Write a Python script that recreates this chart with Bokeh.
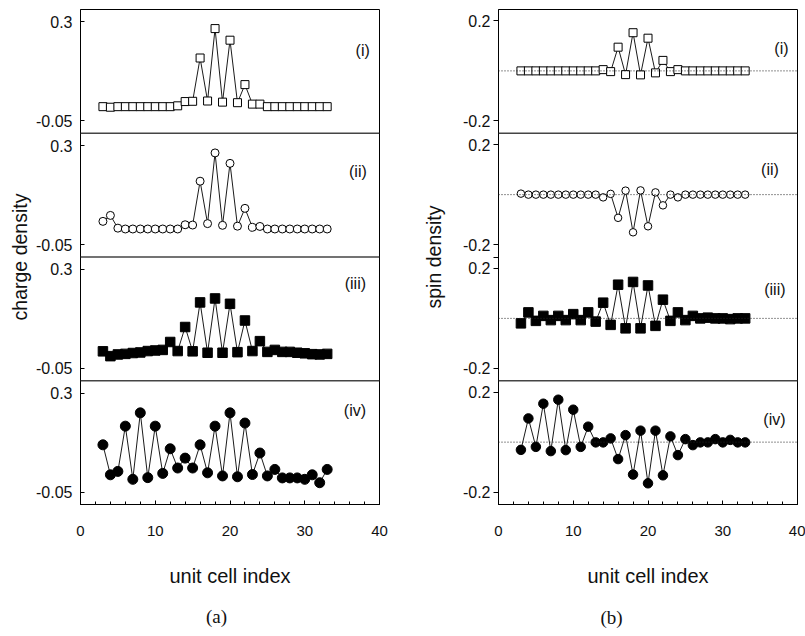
from bokeh.plotting import figure
from bokeh.models import (Range1d, FixedTicker, SingleIntervalTicker, Span,
                          ColumnDataSource, Label, LinearAxis)
from bokeh.layouts import row
from bokeh.transform import dodge
from bokeh.embed import file_html
from bokeh.resources import INLINE

# ---------------- data ----------------
cells = list(range(3, 34))

charge_i = [0.0, -0.002, 0.0, 0.0, 0.0, 0.0, 0.0, 0.0, 0.0, 0.0,
            0.003, 0.018, 0.019, 0.172, 0.020, 0.276, 0.016, 0.235, 0.014, 0.078,
            0.009, 0.009, 0.0, 0.0, 0.0, 0.0, 0.0, 0.0, 0.0, 0.0, 0.0]
charge_ii = [0.032, 0.053, 0.008, 0.005, 0.005, 0.005, 0.005, 0.005, 0.005, 0.005,
             0.005, 0.020, 0.019, 0.174, 0.024, 0.274, 0.018, 0.237, 0.015, 0.078,
             0.011, 0.014, 0.005, 0.005, 0.005, 0.005, 0.005, 0.005, 0.005, 0.005, 0.005]
charge_iii = [0.010, -0.007, -0.001, 0.001, 0.004, 0.006, 0.011, 0.013, 0.015, 0.043,
              0.011, 0.096, 0.010, 0.183, 0.005, 0.197, 0.005, 0.178, 0.007, 0.119,
              0.011, 0.046, 0.008, 0.015, 0.008, 0.008, 0.005, 0.003, 0.000, -0.001, 0.001]
charge_iv = [0.117, 0.011, 0.023, 0.183, -0.005, 0.230, 0.001, 0.183, 0.016, 0.103,
             0.035, 0.070, 0.035, 0.117, 0.018, 0.183, 0.007, 0.230, 0.004, 0.194,
             0.012, 0.088, 0.007, 0.030, 0.000, 0.000, 0.000, -0.005, 0.011, -0.017, 0.030]

spin_i = [0.0, 0.0, 0.0, 0.0, 0.0, 0.0, 0.0, 0.0, 0.0, 0.0,
          0.0, 0.005, -0.003, 0.095, -0.015, 0.153, -0.016, 0.131, -0.008, 0.042,
          -0.003, 0.005, 0.0, 0.0, 0.0, 0.0, 0.0, 0.0, 0.0, 0.0, 0.0]
spin_ii = [0.004, 0.0, 0.0, 0.0, 0.0, 0.0, 0.0, 0.0, 0.0, 0.0,
           0.0, -0.011, 0.003, -0.093, 0.016, -0.151, 0.017, -0.127, 0.009, -0.043,
           0.0, -0.011, 0.0, 0.0, 0.0, 0.0, 0.0, 0.0, 0.0, 0.0, 0.0]
spin_iii = [-0.020, 0.024, -0.010, 0.010, -0.007, 0.010, -0.007, 0.017, -0.007, 0.024,
            -0.013, 0.063, -0.026, 0.135, -0.040, 0.146, -0.040, 0.132, -0.030, 0.075,
            -0.010, 0.024, -0.007, 0.010, 0.000, 0.003, 0.000, 0.000, -0.003, 0.000, 0.000]
spin_iv = [-0.031, 0.095, -0.019, 0.154, -0.036, 0.170, -0.032, 0.130, -0.019, 0.062,
           -0.001, -0.001, 0.015, -0.068, 0.028, -0.130, 0.046, -0.165, 0.046, -0.133,
           0.023, -0.052, 0.012, -0.012, -0.001, -0.001, 0.012, -0.001, 0.009, -0.001, -0.001]

panel_labels = ["(i)", "(ii)", "(iii)", "(iv)"]
charge_ticks = [0.3, -0.05]
spin_ticks = [0.2, -0.2]
x_ticks_interval = 10

# ---------------- styles ----------------
SANS = "Liberation Sans"
SERIF = "Liberation Serif"
H = 634

styles = [
    dict(marker="square", size=8, fill_color="white"),
    dict(marker="circle", size=8, fill_color="white"),
    dict(marker="square", size=9.5, fill_color="black"),
    dict(marker="circle", size=10, fill_color="black"),
]
styles_r = [
    dict(marker="square", size=8, fill_color="white"),
    dict(marker="circle", size=7.5, fill_color="white"),
    dict(marker="square", size=9.5, fill_color="black"),
    dict(marker="circle", size=9.5, fill_color="black"),
]


def base_fig(width, mb_left, mb_right, mb_top, frame_h, band):
    p = figure(width=width, height=H, x_range=Range1d(0, 40),
               y_range=Range1d(0, 4 * band),
               output_backend="svg", toolbar_location=None,
               min_border_left=mb_left, min_border_right=mb_right,
               min_border_top=mb_top, min_border_bottom=H - mb_top - frame_h)
    p.grid.visible = False
    p.outline_line_color = "black"
    p.outline_line_width = 1
    p.background_fill_color = "white"
    p.border_fill_color = "white"
    xa = p.xaxis[0]
    xa.ticker = SingleIntervalTicker(interval=x_ticks_interval, num_minor_ticks=5)
    xa.major_tick_in = 4
    xa.major_tick_out = 0
    xa.minor_tick_in = 3
    xa.minor_tick_out = 0
    xa.axis_line_color = "black"
    xa.major_label_text_font = SANS
    xa.major_label_text_font_size = "15px"
    xa.major_label_text_color = "#111111"
    xa.major_label_standoff = 21
    xa.axis_label = "unit cell index"
    xa.axis_label_text_font = SANS
    xa.axis_label_text_font_style = "normal"
    xa.axis_label_text_font_size = "20px"
    xa.axis_label_text_color = "#111111"
    xa.axis_label_standoff = 26
    ya = p.yaxis[0]
    ya.axis_line_color = "black"
    ya.major_label_text_font = SANS
    ya.major_label_text_font_size = "16px"
    ya.major_label_text_color = "#111111"
    ya.minor_tick_line_color = None
    ya.axis_label_text_font = SANS
    ya.axis_label_text_font_style = "normal"
    ya.axis_label_text_font_size = "19.5px"
    ya.axis_label_text_color = "#111111"
    return p


def draw_panels(p, series, offsets, sty):
    for k, vals in enumerate(series):
        src = ColumnDataSource(dict(x=cells, v=vals))
        y = dodge("v", offsets[k])
        p.line(x="x", y=y, source=src, line_color="black", line_width=0.9)
        p.scatter(x="x", y=y, source=src, line_color="black", line_width=1,
                  **sty[k])


def caption(p, text, x_px, frame_w, standoff):
    # caption drawn as the single tick label of an extra, invisible bottom axis
    cx = round(x_px / frame_w * 40.0, 2)
    ax = LinearAxis(ticker=FixedTicker(ticks=[cx]), major_label_overrides={cx: text},
                    axis_line_color=None, major_tick_line_color=None,
                    minor_tick_line_color=None, major_tick_in=0, major_tick_out=0,
                    minor_tick_in=0, minor_tick_out=0,
                    major_label_standoff=standoff,
                    major_label_text_font=SERIF, major_label_text_font_size="19px",
                    major_label_text_color="#111111")
    p.add_layout(ax, "below")


# ---------------- left column: charge density ----------------
BAND_L = 0.4375
LO_L = -0.094
off_l = [(3 - k) * BAND_L - LO_L for k in range(4)]

pL = base_fig(400, 80, 21, 5, 499, BAND_L)
draw_panels(pL, [charge_i, charge_ii, charge_iii, charge_iv], off_l, styles)

for j in (1, 2, 3):
    pL.add_layout(Span(location=j * BAND_L, dimension="width",
                       line_color="#444444", line_width=1.5))

ticksL, overL = [], {}
for k in range(4):
    for t in charge_ticks:
        pos = round(off_l[k] + t, 6)
        ticksL.append(pos)
        overL[pos] = f"{t:g}"
yl = pL.yaxis[0]
yl.ticker = FixedTicker(ticks=ticksL)
yl.major_label_overrides = overL
yl.major_tick_in = 4
yl.major_tick_out = 0
yl.major_label_standoff = 8
yl.axis_label = "charge density"
yl.axis_label_standoff = 2

lab_xl = [38.7, 38.3, 38.2, 38.2]
lab_yl = [0.20, 0.21, 0.25, 0.24]
for k in range(4):
    pL.add_layout(Label(x=lab_xl[k], y=off_l[k] + lab_yl[k], text=panel_labels[k],
                        text_align="right", text_baseline="middle",
                        text_font=SANS, text_font_size="16px", text_color="#111111"))

caption(pL, "(a)", 136, 299, 16)

# ---------------- right column: spin density ----------------
BAND_R = 0.496
LO_R = -0.25
off_r = [(3 - k) * BAND_R - LO_R for k in range(4)]

pR = base_fig(405, 98, 8, 9, 496, BAND_R)
for k in range(4):
    pR.add_layout(Span(location=off_r[k], dimension="width", line_color="#222222",
                       line_width=1, line_dash="1 2"))
draw_panels(pR, [spin_i, spin_ii, spin_iii, spin_iv], off_r, styles_r)

for j in (1, 3):
    pR.add_layout(Span(location=j * BAND_R, dimension="width",
                       line_color="#444444", line_width=1.5))

ticksR, overR = [], {}
for k in range(4):
    for t in spin_ticks:
        pos = round(off_r[k] + t, 6)
        ticksR.append(pos)
        overR[pos] = f"{t:g}"
mid = round(2 * BAND_R, 6)
ticksR.append(mid)
overR[mid] = ""
yr = pR.yaxis[0]
yr.ticker = FixedTicker(ticks=ticksR)
yr.major_label_overrides = overR
yr.major_tick_in = 0
yr.major_tick_out = 5
yr.major_label_standoff = 3
yr.axis_label = "spin density"
yr.axis_label_standoff = 15

lab_xr = [38.8, 37.5, 38.4, 38.4]
lab_yr = [0.09, 0.10, 0.116, 0.092]
for k in range(4):
    pR.add_layout(Label(x=lab_xr[k], y=off_r[k] + lab_yr[k], text=panel_labels[k],
                        text_align="right", text_baseline="middle",
                        text_font=SANS, text_font_size="16px", text_color="#111111"))

caption(pR, "(b)", 113, 299, 17)

layout = row(pL, pR)
open("out.html", "w").write(file_html(layout, INLINE))
